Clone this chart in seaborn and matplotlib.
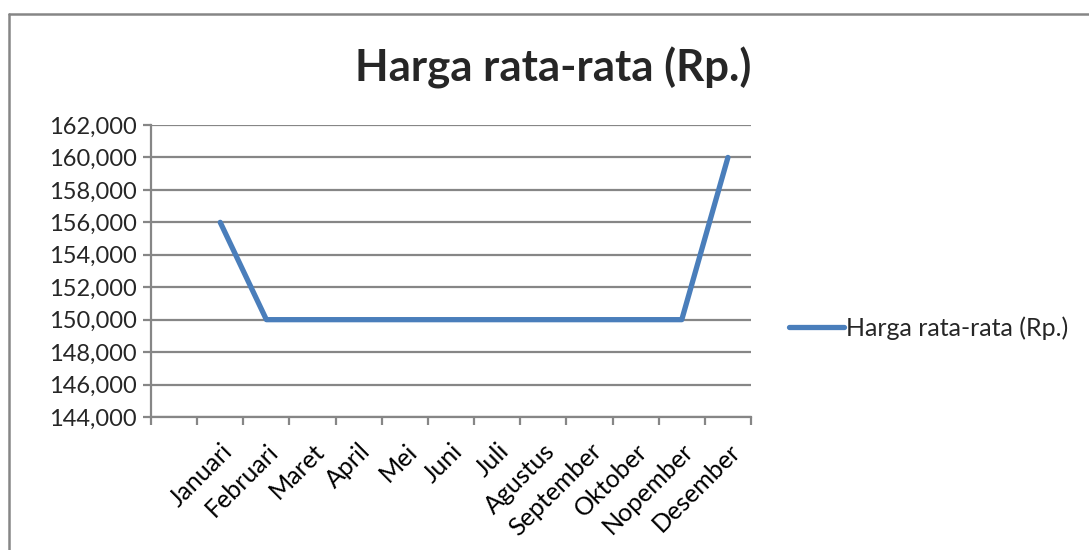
import numpy as np
import pandas as pd
import matplotlib
matplotlib.use("Agg")
import matplotlib.pyplot as plt
from matplotlib.lines import Line2D
from matplotlib.ticker import FuncFormatter, FixedLocator
import seaborn as sns

sns.set_theme(style="white")
plt.rcParams['font.family'] = ['Lato', 'DejaVu Sans']

# data
bulan = ["Januari", "Februari", "Maret", "April", "Mei", "Juni", "Juli",
         "Agustus", "September", "Oktober", "Nopember", "Desember"]
harga = [156000, 150000, 150000, 150000, 150000, 150000, 150000,
         150000, 150000, 150000, 150000, 160000]
y_ticks = [144000, 146000, 148000, 150000, 152000, 154000, 156000, 158000, 160000, 162000]
judul = "Harga rata-rata (Rp.)"

df = pd.DataFrame({"Bulan": bulan, "Harga": harga})

W, H = 1089, 550
fig = plt.figure(figsize=(W / 100, H / 100), dpi=100)
ax = fig.add_axes([151 / W, (H - 417) / H, 600 / W, 292 / H])

grey = "#868686"
sns.lineplot(data=df, x="Bulan", y="Harga", ax=ax, color="#4A7EBB",
             linewidth=3.8, solid_capstyle="round", solid_joinstyle="round",
             label=judul, sort=False)

ax.set_xlim(-1.5, len(bulan) - 0.5)
ax.set_ylim(y_ticks[0], y_ticks[-1])
ax.set_yticks(y_ticks)
ax.yaxis.set_major_formatter(FuncFormatter(lambda v, p: f"{int(v):,}"))
ax.grid(axis="y", color=grey, linewidth=1.6)
ax.set_axisbelow(True)

# category ticks between slots, labels at slot centres
ax.xaxis.set_major_locator(FixedLocator(range(len(bulan))))
ax.set_xticklabels(bulan, rotation=45, ha="right", va="top", rotation_mode="anchor")
ax.xaxis.set_minor_locator(FixedLocator(np.arange(-1.5, len(bulan), 1.0)))
ax.tick_params(axis="x", which="major", length=0, pad=16, labelsize=18, colors="black")
ax.tick_params(axis="x", which="minor", length=6, width=1.6, color=grey, direction="out", bottom=True)
ax.tick_params(axis="y", length=6, width=1.6, color=grey, direction="out", left=True,
               labelsize=17, pad=4)
for s in ["top", "right"]:
    ax.spines[s].set_visible(False)
for s in ["left", "bottom"]:
    ax.spines[s].set_color(grey)
    ax.spines[s].set_linewidth(1.6)
ax.set_xlabel("")
ax.set_ylabel("")

fig.text(553 / W, 1 - 68 / H, judul, ha="center", va="center",
         fontsize=31.5, fontweight="bold")

ax.legend(loc="center left", bbox_to_anchor=(789 / W, 1 - 328 / H),
          bbox_transform=fig.transFigure, frameon=False, fontsize=18,
          handlelength=2.2, handletextpad=0.1, borderaxespad=0, borderpad=0)

# outer chart border (cut at right and bottom)
fig.add_artist(Line2D([9 / W, 9 / W], [0, 1 - 14 / H], color=grey, linewidth=1.8,
                      transform=fig.transFigure))
fig.add_artist(Line2D([9 / W, 1], [1 - 14 / H, 1 - 14 / H], color=grey, linewidth=1.8,
                      transform=fig.transFigure))

fig.savefig("out.png", dpi=100)
